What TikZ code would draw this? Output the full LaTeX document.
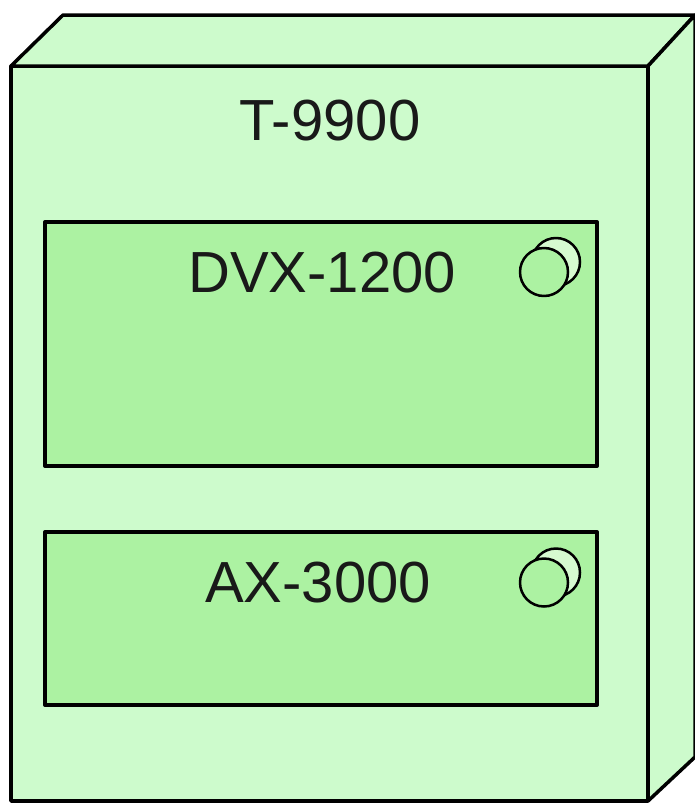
\documentclass[tikz,border=0pt]{standalone}
\usepackage{fontspec}
\setmainfont{Liberation Sans}
\usetikzlibrary{positioning}
\definecolor{boxgreen}{RGB}{205,251,204}
\definecolor{devgreen}{RGB}{172,242,162}
\definecolor{ringgreen}{RGB}{214,250,208}

\begin{document}
\begin{tikzpicture}[x=1pt,y=-1pt,line join=round,
                    outer face/.style={draw,fill=boxgreen,line width=3.5pt,outer sep=0pt,inner sep=0pt},
                    device/.style={draw,fill=devgreen,line width=4pt,minimum width=552pt,outer sep=0pt,inner sep=0pt},
                    title/.style={font=\fontsize{58}{60}\selectfont,anchor=base,text=black!90},
                    ring/.style={circle,draw,line width=2.5pt,minimum size=48pt,inner sep=0pt}]
  \useasboundingbox (0,0) rectangle (695,803);
  % the T-9900 box
  \node[outer face,minimum width=637pt,minimum height=735pt] (t9900) at (329.5,433.5) {};
  \draw[outer face] (t9900.north west) -- ++(52,-51) -- ++(632,0) -- (t9900.north east) -- cycle;
  \draw[outer face] (t9900.north east) -- ++(47,-51) -- ++(0,742) -- (t9900.south east) -- cycle;
  \node[title] (t9900 label) at (330,140) {T-9900};
  % devices
  \node[device,minimum height=244pt] (dvx) at (321,344) {};
  \node[device,minimum height=173pt] (ax) at (321,618.5) {};
  \node[title] (dvx label) at (322,292) {DVX-1200};
  \node[title] (ax label) at (318,602) {AX-3000};
  \node[ring,fill=ringgreen] (dvx ring back) at (556,262) {};
  \node[ring,fill=devgreen] (dvx ring) at (544,272) {};
  \node[ring,fill=ringgreen] (ax ring back) at (556,572.5) {};
  \node[ring,fill=devgreen] (ax ring) at (544,582.5) {};
\end{tikzpicture}
\end{document}
